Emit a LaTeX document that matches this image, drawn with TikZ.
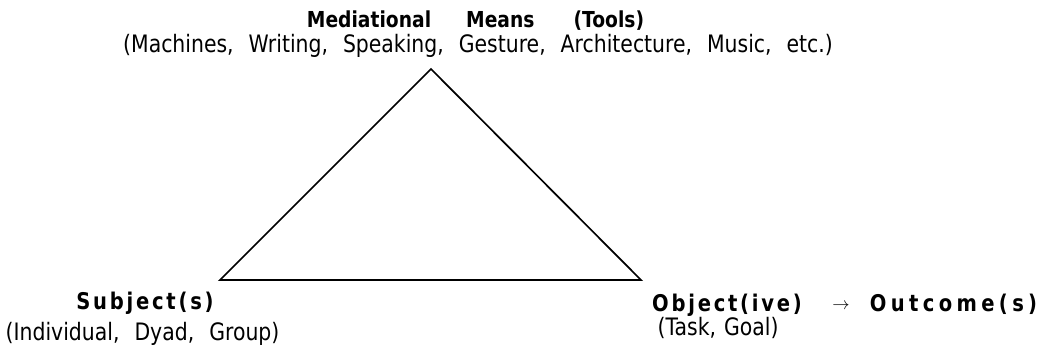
\documentclass[tikz,border=0pt]{standalone}
\usepackage{fontspec}
\setmainfont{DejaVu Sans}[FakeStretch=0.85]
\newfontfamily\spaced{DejaVu Sans}[FakeStretch=0.85, LetterSpace=12]
\newfontfamily\wider{DejaVu Sans}[FakeStretch=0.85, LetterSpace=19]
\usepackage{tikz}
\usetikzlibrary{positioning}
\tikzset{head/.style={inner sep=0pt, anchor=base, font=\fontsize{22}{26}\selectfont\bfseries}}
\tikzset{corner/.style={inner sep=0pt, anchor=base, font=\spaced\fontsize{23}{27}\selectfont\bfseries}}
\tikzstyle{note}=[inner sep=0pt, anchor=base, font=\fontsize{24}{28}\selectfont]

\begin{document}
\begin{tikzpicture}[x=1pt, y=-1pt, line width=1.7pt, line join=miter]
\useasboundingbox (0,0) rectangle (1046,354);
\coordinate (A) at (431,69);
\coordinate (B) at (220,280);
\coordinate (C) at (641,280);
\draw (A) -- (B) -- (C) -- cycle;

\node[head] (tools) at (475.5,27) {Mediational\hspace{35pt}Means\hspace{39pt}(Tools)};
\node[note] (toolsnote) at (478,52) {(Machines,\hspace{15pt}Writing,\hspace{15pt}Speaking,\hspace{15pt}Gesture,\hspace{15pt}Architecture,\hspace{15pt}Music,\hspace{15pt}etc.)};

\node[corner] (subj) at (145,309) {Subject(s)};
\node[note] (subjnote) at (142.5,340) {(Individual,\hspace{15pt}Dyad,\hspace{15pt}Group)};

\node[corner] (obj) at (727,311) {Object(ive)};
\node[note] (objnote) at (718,335) {(Task,\hspace{8pt}Goal)};
\node[inner sep=0pt, anchor=base, font=\fontsize{17}{20}\selectfont] (to) at (841,309) {$\rightarrow$};
\node[corner, font=\wider\fontsize{23}{27}\selectfont\bfseries] (outc) at (953.5,311) {Outcome(s)};
\end{tikzpicture}
\end{document}
